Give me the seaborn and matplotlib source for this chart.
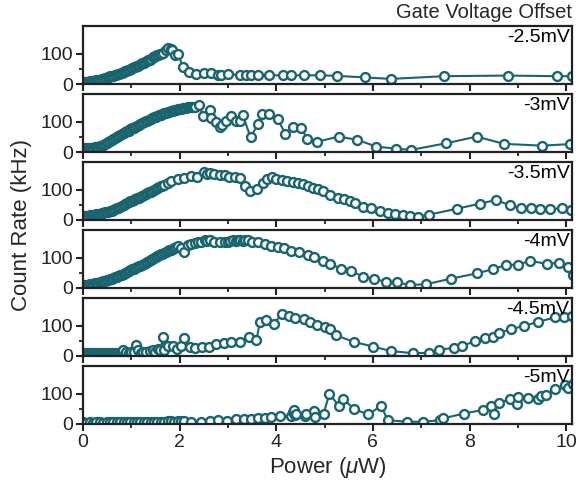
import matplotlib
matplotlib.use("Agg")
import matplotlib.pyplot as plt
import seaborn as sns
import pandas as pd
from matplotlib.ticker import MultipleLocator, FixedLocator

# ---------------- data ----------------
labels = ["-2.5mV", "-3mV", "-3.5mV", "-4mV", "-4.5mV", "-5mV"]

x_25 = [0.00, 0.03, 0.06, 0.09, 0.12, 0.15, 0.18, 0.21, 0.24, 0.27, 0.30, 0.33, 0.36, 0.39,
        0.42, 0.45, 0.48, 0.51, 0.54, 0.57, 0.60, 0.63, 0.66, 0.69, 0.72, 0.75, 0.78, 0.81,
        0.84, 0.87, 0.90, 0.93, 0.96, 0.99, 1.02, 1.05, 1.08, 1.11, 1.14, 1.17, 1.20, 1.23,
        1.26, 1.29, 1.32, 1.35, 1.38, 1.41, 1.44, 1.47, 1.50, 1.53, 1.56, 1.59, 1.62, 1.65,
        1.72, 1.77, 1.82, 1.85, 1.90, 1.97, 2.07, 2.19,
        2.34, 2.50, 2.66, 2.80, 2.86, 3.00, 3.26, 3.38, 3.48, 3.62, 3.86, 4.15, 4.31, 4.57,
        4.91, 5.26, 5.83, 6.37, 7.47, 8.79, 9.81, 10.12]
y_25 = [6, 6, 7, 7, 8, 9, 9, 10, 11, 12, 13, 14, 15, 17,
        18, 19, 20, 22, 23, 25, 26, 28, 29, 31, 33, 34, 36, 38,
        40, 42, 44, 46, 48, 50, 53, 55, 57, 59, 61, 64, 66, 69,
        71, 73, 76, 78, 81, 84, 88, 91, 92, 95, 97, 98, 100, 101,
        114, 120, 117, 114, 97, 99, 57, 40,
        34, 37, 37, 31, 31, 32, 31, 31, 29, 29, 29, 29, 29, 29,
        29, 27, 22, 17, 26, 28, 26, 26]

x_30 = [0.000, 0.035, 0.070, 0.105, 0.140, 0.175, 0.210, 0.245, 0.280, 0.315, 0.350, 0.385,
        0.420, 0.455, 0.490, 0.525, 0.560, 0.595, 0.630, 0.665, 0.700, 0.735, 0.770, 0.805,
        0.840, 0.875, 0.910, 0.945, 0.980, 1.015, 1.050, 1.085, 1.120, 1.155, 1.190, 1.225,
        1.260, 1.295, 1.330, 1.365, 1.400, 1.435, 1.470, 1.505, 1.540, 1.575, 1.610, 1.645,
        1.680, 1.715, 1.750, 1.785, 1.820, 1.855, 1.890, 1.925, 1.960, 1.995, 2.030, 2.065,
        2.100, 2.135, 2.170, 2.205, 2.240, 2.275, 2.310,
        2.41, 2.48, 2.62, 2.66, 2.76, 2.83, 2.88, 2.97, 3.07, 3.17, 3.24, 3.31,
        3.47, 3.62, 3.71, 3.86, 4.03, 4.19, 4.34, 4.52, 4.64, 4.84, 5.30, 5.68, 6.07, 6.47,
        6.79, 7.52, 8.15, 8.71, 9.50, 10.07]
y_30 = [11, 12, 12, 12, 13, 13, 14, 15, 16, 17, 19, 21,
        24, 27, 30, 33, 36, 39, 43, 46, 50, 53, 57, 60,
        63, 66, 69, 71, 75, 78, 81, 84, 87, 90, 92, 95,
        98, 101, 104, 107, 110, 112, 115, 117, 120, 122, 124, 126,
        128, 130, 132, 133, 135, 137, 138, 140, 141, 142, 143, 144,
        146, 147, 148, 149, 149, 148, 149,
        154, 120, 138, 112, 99, 82, 90, 101, 118, 104, 101, 121,
        48, 93, 126, 126, 109, 60, 82, 81, 42, 34, 51, 40, 18, 11,
        7, 29, 51, 27, 21, 26]

x_35 = [0.000, 0.035, 0.070, 0.105, 0.140, 0.175, 0.210, 0.245, 0.280, 0.315, 0.350, 0.385,
        0.420, 0.455, 0.490, 0.525, 0.560, 0.595, 0.630, 0.665, 0.700, 0.735, 0.770, 0.805,
        0.840, 0.875, 0.910, 0.945, 0.980, 1.015, 1.050, 1.085, 1.120, 1.155, 1.190, 1.225,
        1.260, 1.295, 1.330, 1.365, 1.400, 1.435, 1.470, 1.505, 1.540, 1.575, 1.610, 1.645,
        1.680, 1.76, 1.83, 1.97, 2.10, 2.24, 2.37, 2.50, 2.56,
        2.62, 2.72, 2.83, 2.93, 3.03, 3.14, 3.26, 3.36, 3.46, 3.60, 3.72, 3.81, 3.92, 4.00,
        4.12, 4.23, 4.34, 4.45, 4.55, 4.66, 4.76, 4.86, 4.97, 5.12, 5.28, 5.41, 5.52, 5.62,
        5.79, 5.97, 6.14, 6.31, 6.45, 6.62, 6.77, 6.93, 7.17, 7.74, 8.21, 8.55, 8.84, 9.07,
        9.28, 9.45, 9.66, 9.92, 10.10]
y_35 = [12, 12, 13, 14, 15, 16, 17, 18, 19, 20, 21, 22,
        24, 25, 27, 28, 30, 31, 33, 36, 38, 41, 44, 46,
        50, 53, 56, 59, 62, 64, 67, 69, 72, 74, 77, 80,
        83, 86, 88, 91, 94, 97, 100, 102, 105, 108, 111, 113,
        116, 122, 129, 134, 140, 146, 143, 157, 152,
        154, 151, 149, 148, 142, 142, 140, 112, 96, 101, 123, 134, 142, 134,
        132, 129, 127, 123, 118, 112, 107, 101, 96, 84, 73, 68, 62, 57,
        42, 38, 31, 23, 20, 16, 13, 11, 18, 37, 54, 66, 48, 40,
        38, 37, 37, 38, 34]

x_40 = [0.000, 0.035, 0.070, 0.105, 0.140, 0.175, 0.210, 0.245, 0.280, 0.315, 0.350, 0.385,
        0.420, 0.455, 0.490, 0.525, 0.560, 0.595, 0.630, 0.665, 0.700, 0.735, 0.770, 0.805,
        0.840, 0.875, 0.910, 0.945, 0.980, 1.015, 1.050, 1.085, 1.120, 1.155, 1.190, 1.225,
        1.260, 1.295, 1.330, 1.365, 1.400, 1.435, 1.470, 1.505, 1.540, 1.575, 1.610, 1.645,
        1.680, 1.715, 1.750, 1.785, 1.820, 1.855, 1.890, 1.925, 1.960,
        2.03, 2.09, 2.17, 2.24, 2.31, 2.38, 2.45, 2.52, 2.57, 2.62, 2.72, 2.83, 2.95, 3.00,
        3.05, 3.10, 3.16, 3.21, 3.26, 3.31, 3.36, 3.41, 3.50,
        3.62, 3.76, 3.90, 4.03, 4.17, 4.31, 4.48, 4.66, 4.79, 4.97, 5.12, 5.34, 5.55, 5.79,
        6.03, 6.28, 6.50, 6.76, 7.10, 7.62, 8.15, 8.48, 8.76, 9.00, 9.26, 9.60, 9.86, 10.03,
        10.14]
y_40 = [9, 9, 10, 11, 12, 13, 14, 15, 16, 17, 19, 20,
        22, 23, 25, 27, 29, 31, 33, 35, 37, 39, 42, 44,
        47, 50, 53, 56, 58, 61, 63, 66, 69, 71, 74, 77,
        80, 84, 87, 90, 93, 96, 99, 102, 105, 108, 111, 113,
        116, 119, 121, 124, 127, 129, 132, 134, 137,
        133, 120, 142, 146, 149, 153, 151, 157, 155, 160, 151, 151, 152, 153,
        155, 157, 156, 157, 157, 156, 158, 160, 151,
        151, 146, 140, 134, 131, 123, 118, 109, 101, 90, 79, 64, 57, 37,
        29, 21, 18, 10, 12, 31, 48, 62, 76, 77, 90, 79, 84, 68,
        42]

x_45 = [0.00, 0.04, 0.08, 0.12, 0.16, 0.20, 0.24, 0.28, 0.32, 0.36, 0.40, 0.44, 0.48, 0.52,
        0.56, 0.60, 0.64, 0.68, 0.72, 0.76, 0.80, 0.83, 0.90, 0.95, 1.00, 1.05, 1.10, 1.14,
        1.21, 1.25, 1.31, 1.38, 1.45, 1.50, 1.55, 1.60, 1.66, 1.68, 1.76, 1.86, 1.95, 2.03,
        2.10, 2.21, 2.31, 2.46, 2.60, 2.76, 2.92, 3.07, 3.26, 3.43, 3.59, 3.66, 3.79, 3.95,
        4.12, 4.26, 4.39, 4.57, 4.69, 4.85, 5.00, 5.12, 5.24, 5.61, 6.00, 6.37, 6.83, 7.16,
        7.37, 7.68, 7.85, 8.12, 8.32, 8.48, 8.60, 8.86, 9.12, 9.41, 9.76, 9.95, 10.12]
y_45 = [9, 9, 10, 9, 8, 9, 10, 9, 9, 10, 9, 8, 9, 10,
        9, 10, 9, 10, 11, 10, 12, 20, 12, 10, 12, 14, 37, 18,
        10, 14, 12, 16, 18, 14, 23, 20, 62, 18, 34, 34, 23, 34,
        60, 29, 27, 29, 31, 40, 42, 46, 46, 64, 51, 112, 120, 107,
        138, 131, 126, 123, 112, 101, 96, 90, 68, 46, 31, 16, 9, 10,
        20, 27, 34, 48, 59, 62, 76, 88, 99, 112, 127, 129, 131]

x_50 = [0.00, 0.07, 0.14, 0.21, 0.28, 0.35, 0.42, 0.49, 0.56, 0.63, 0.70, 0.77, 0.84, 0.91,
        0.98, 1.05, 1.12, 1.19, 1.26, 1.33, 1.40, 1.47, 1.54, 1.61, 1.68, 1.75, 1.82, 1.89,
        1.96, 2.03, 2.10, 2.24, 2.45, 2.62, 2.79, 2.98, 3.17, 3.33, 3.48, 3.62, 3.76, 3.90,
        4.07, 4.30, 4.34, 4.36, 4.38, 4.41, 4.59, 4.62, 4.78, 4.81, 4.98, 5.10, 5.30, 5.39,
        5.61, 5.90, 6.17, 6.31, 6.71, 7.03, 7.38, 7.45, 7.88, 8.28, 8.45, 8.50, 8.60, 8.83,
        8.99, 9.01, 9.22, 9.41, 9.48, 9.59, 9.77, 9.97, 10.03, 10.14]
y_50 = [5, 4, 5, 4, 5, 5, 4, 5, 5, 6, 5, 6, 5, 6,
        6, 5, 6, 6, 7, 6, 7, 7, 6, 7, 7, 8, 8, 7,
        8, 8, 9, 7, 7, 10, 12, 11, 16, 16, 16, 18, 20, 23,
        26, 27, 38, 46, 30, 34, 27, 34, 42, 23, 34, 99, 59, 82,
        49, 31, 59, 12, 7, 7, 12, 18, 34, 46, 59, 31, 68, 82,
        64, 90, 87, 82, 92, 96, 114, 127, 120, 132]

series_x = [x_25, x_30, x_35, x_40, x_45, x_50]
series_y = [y_25, y_30, y_35, y_40, y_45, y_50]

# ---------------- style ----------------
sns.set_style("ticks")
plt.rcParams["font.family"] = ["Liberation Sans", "DejaVu Sans"]
plt.rcParams["mathtext.fontset"] = "custom"
plt.rcParams["mathtext.it"] = "Liberation Sans:italic"
plt.rcParams["mathtext.rm"] = "Liberation Sans"

teal = "#19646e"
frame = "#222222"

fig, axes = plt.subplots(6, 1, figsize=(5.76, 4.90), dpi=100, sharex=True)
fig.subplots_adjust(left=0.144, right=0.993, top=0.947, bottom=0.135, hspace=0.17)

for ax, lab, xs, ys in zip(axes, labels, series_x, series_y):
    df = pd.DataFrame({"power": xs, "rate": ys})
    sns.lineplot(data=df, x="power", y="rate", ax=ax, estimator=None, sort=False,
                 color=teal, linewidth=1.5, marker="o", markersize=6.4,
                 markerfacecolor="white", markeredgecolor=teal, markeredgewidth=1.7)
    ax.set_xlim(0, 10.12)
    ax.set_ylim(0, 192)
    ax.yaxis.set_major_locator(FixedLocator([0, 100]))
    ax.yaxis.set_minor_locator(FixedLocator([50]))
    ax.xaxis.set_major_locator(MultipleLocator(2))
    ax.xaxis.set_minor_locator(MultipleLocator(1))
    ax.tick_params(axis="both", which="major", direction="out", length=5, width=1.5,
                   color=frame, labelsize=14, labelcolor="#222222", pad=2)
    ax.tick_params(axis="both", which="minor", direction="out", length=3, width=1.3,
                   color=frame)
    for s in ax.spines.values():
        s.set_visible(True)
        s.set_linewidth(1.6)
        s.set_color(frame)
    ax.set_xlabel("")
    ax.set_ylabel("")
    ax.text(0.995, 0.95, lab, transform=ax.transAxes, ha="right", va="top",
            fontsize=14, color="black")

axes[-1].set_xlabel(r"Power ($\mu$W)", fontsize=16, labelpad=3)
fig.text(0.038, 0.54, "Count Rate (kHz)", rotation=90, ha="center", va="center",
         fontsize=16)
fig.text(0.993, 0.975, "Gate Voltage Offset", ha="right", va="center", fontsize=14.5)

fig.savefig("out.png", dpi=100)
